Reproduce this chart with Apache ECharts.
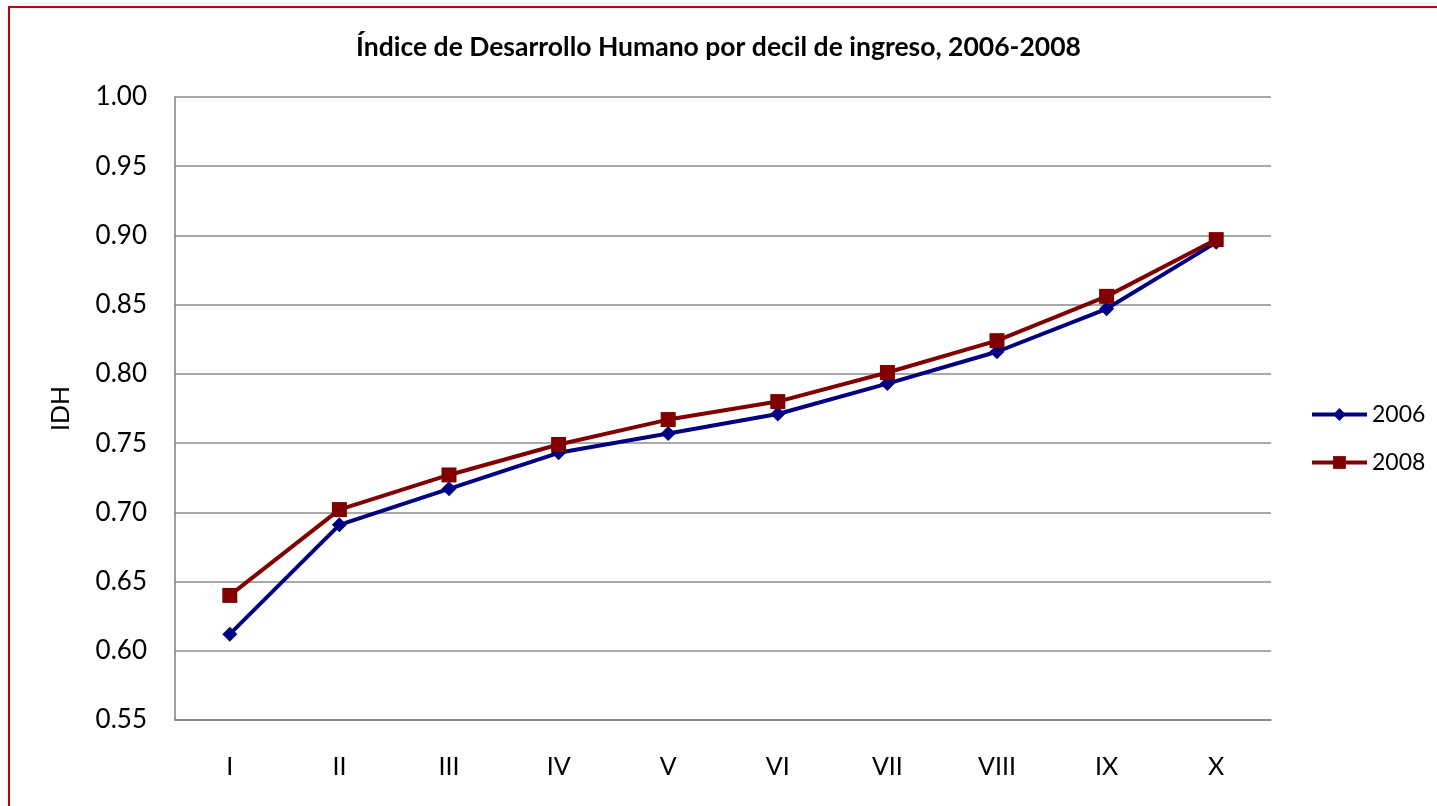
<!DOCTYPE html>
<html>
<head>
<meta charset="utf-8">
<script src="https://cdn.jsdelivr.net/npm/echarts@6/dist/echarts.min.js"></script>
<style>
  html, body { margin: 0; padding: 0; background: #fff; overflow: hidden; }
  #frame { position: absolute; left: 8px; top: 6px; width: 1500px; height: 900px;
    border-top: 2px solid #C00000; border-left: 2px solid #C00000; }
  #main { position: absolute; left: 0; top: 0; width: 1437px; height: 806px; }
</style>
</head>
<body>
<div id="frame"></div>
<div id="main"></div>
<script>
// deciles de ingreso
const deciles = ['I', 'II', 'III', 'IV', 'V', 'VI', 'VII', 'VIII', 'IX', 'X']
const idh2006 = [0.612, 0.691, 0.717, 0.743, 0.757, 0.771, 0.793, 0.816, 0.847, 0.895]
const idh2008 = [0.640, 0.702, 0.727, 0.749, 0.767, 0.780, 0.801, 0.824, 0.856, 0.897]
const yTicks = { min: 0.55, max: 1.0, step: 0.05 }

const FONT = 'Lato'

const chart = echarts.init(document.getElementById('main'))
chart.setOption({
  animation: false,
  textStyle: { fontFamily: FONT },
  title: {
    text: 'Índice de Desarrollo Humano por decil de ingreso, 2006-2008',
    left: 'center',
    top: 29,
    textStyle: { fontFamily: FONT, fontWeight: 'bold', fontSize: 26.5, color: '#000' }
  },
  legend: {
    orient: 'vertical',
    left: 1305,
    top: 398,
    itemWidth: 55,
    itemHeight: 16,
    itemGap: 25,
    lineStyle: { width: 4 },
    textStyle: { fontFamily: FONT, fontSize: 23, color: '#000' },
    data: ['2006', '2008']
  },
  grid: { left: 175, top: 97, right: 166, bottom: 86 },
  xAxis: {
    type: 'category',
    data: deciles,
    boundaryGap: true,
    axisLine: { lineStyle: { color: '#808080', width: 1.5 } },
    axisTick: { show: false },
    axisLabel: { fontFamily: FONT, fontSize: 25, color: '#000', margin: 34 }
  },
  yAxis: {
    type: 'value',
    min: yTicks.min,
    max: yTicks.max,
    interval: yTicks.step,
    name: 'IDH',
    nameLocation: 'middle',
    nameGap: 102,
    nameTextStyle: { fontFamily: FONT, fontSize: 25, color: '#000' },
    axisLine: { show: true, lineStyle: { color: '#808080', width: 1.5 } },
    axisTick: { show: false },
    axisLabel: {
      fontFamily: FONT, fontSize: 26, color: '#000', margin: 28,
      formatter: v => v.toFixed(2)
    },
    splitLine: { lineStyle: { color: '#8c8c8c', width: 1.5 } }
  },
  series: [
    {
      name: '2006',
      type: 'line',
      data: idh2006,
      symbol: 'diamond',
      symbolSize: 15,
      itemStyle: { color: '#000080' },
      lineStyle: { color: '#000080', width: 4 },
      z: 2
    },
    {
      name: '2008',
      type: 'line',
      data: idh2008,
      symbol: 'rect',
      symbolSize: 15,
      itemStyle: { color: '#800000' },
      lineStyle: { color: '#800000', width: 4 },
      z: 3
    }
  ]
})
</script>
</body>
</html>
